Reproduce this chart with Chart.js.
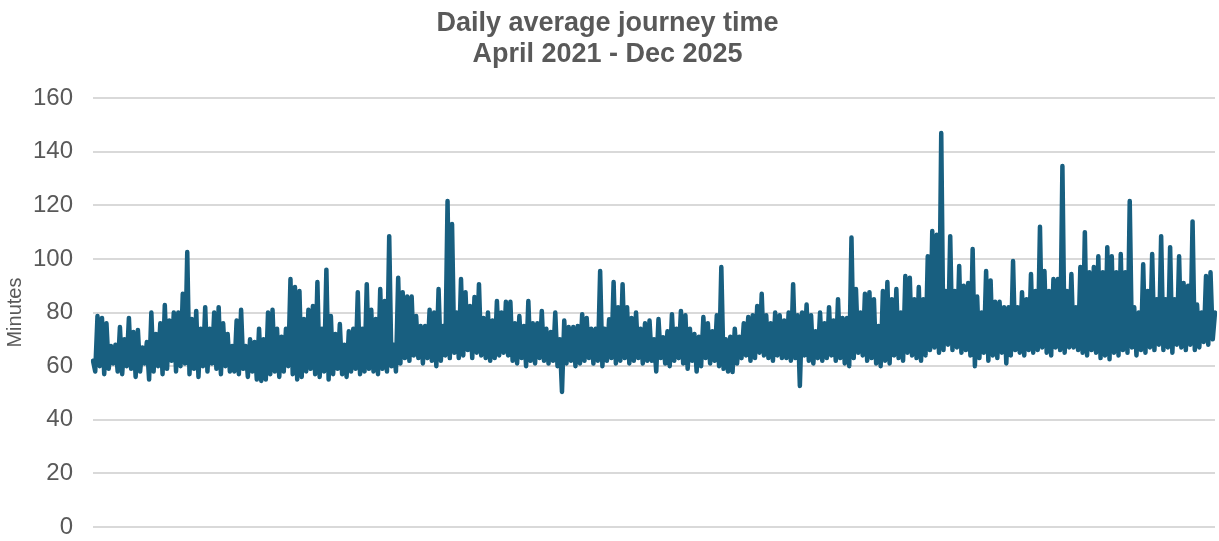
<!DOCTYPE html>
<html>
<head>
<meta charset="utf-8">
<script src="https://cdn.jsdelivr.net/npm/chart.js@4/dist/chart.umd.min.js"></script>
<style>
html,body{margin:0;padding:0;background:#fff;}
#wrap{width:1219px;height:541px;position:relative;}
</style>
</head>
<body>
<div id="wrap"><canvas id="c"></canvas></div>
<script>
// Daily average journey time (minutes), period by period
const apr2021toAug2021 = [62,58, 78.7,60, 78,57, 76,59, 67.5,61, 68,58, 74.6,57, 70,60, 78,59, 72.7,56, 73.5,58, 67,61, 69,55, 80,58, 72,60, 76,57, 82.8,59, 77,62, 80,58, 80,60, 87,61, 102.6,57, 77.6,59, 80.6,56, 74,60, 82,58, 74,61, 80,59, 82,57, 76,60, 72,58];
const sep2021toDec2021 = [67.5,58, 77,57, 81,59, 67.5,56, 70,58, 69,55, 74,54.5, 70,55, 80,57, 81,58, 74,56, 71,58, 74,60, 92.5,57, 89.5,55, 88,56, 77.6,58, 81,59, 82.4,57, 91.4,56, 74,58, 96,55, 78.7,57, 72,59, 75.7,57, 68,56, 73,58, 74,59, 87.6,57, 74,58, 90.6,59];
const jan2022toJul2022 = [81,58, 77.6,57, 88.8,59, 84.3,58, 108.5,60, 68,58, 93,61, 87.6,63, 86,62, 86,64, 78.7,63, 75,61, 75,63, 81,62, 80,60, 88.8,62, 75,64, 121.6,63, 113,65, 80,63, 92.5,64, 87.6,66, 82.4,63, 85.8,65, 90.6,64, 78,63, 80,62, 77,63, 84.3,64, 80,65, 84,64];
const aug2022toDec2022 = [84,62, 76,61, 78.7,63, 75,60, 84.3,62, 76,61, 76,63, 80.6,62, 74,61, 72.7,62, 80,60, 70,50.4, 77,61, 74.6,62, 74.6,60, 75,61, 79.4,62, 78,63, 74,61, 74,62, 95.5,60, 74,62, 77.5,63, 91.4,61, 82,62, 90.6,63, 82,61, 78,62, 80,63, 74,61, 76,62];
const jan2023toJul2023 = [77,62, 70,58, 77.6,63, 70.8,61, 73,60, 79.4,62, 74,63, 80.6,61, 79,59, 74,62, 72,58, 71,60, 78.3,63, 76,61, 73,62, 79,60, 97,59, 70,58, 71,57.8, 74,61, 71,63, 76,64, 78.3,62, 79,63, 82.4,65, 87,64, 79,63, 76,62, 80,64, 79,63, 77,63, 80,62];
const aug2023toDec2023 = [90.6,63, 79,52.6, 80,64, 83,62, 79,61, 73,63, 80,62, 76,63, 82,64, 77,62, 85,63, 78,61, 78,60, 108,63, 88.8,65, 80,64, 87,62, 87.6,63, 85,61, 75,60, 88,62, 91.4,61, 85,64, 88.8,63, 80,62, 93.6,65, 93,64, 85,63, 89.5,62, 85,64, 101,66, 110.4,67];
const jan2024toJul2024 = [109,65, 147,66, 88,68, 108.5,66, 88,67, 97.4,65, 90,66, 91,64, 103.7,60, 86,63, 80,65, 95.5,62, 92,64, 84,63, 84,65, 82,61, 82,64, 99.2,66, 82,65, 87.6,64, 85,66, 94.4,65, 88,66, 112,67, 95.5,65, 88,64, 92.5,67, 92.5,66, 134.7,65, 88,67];
const aug2024toDec2025 = [94.4,67, 82,66, 97,65, 110,64, 95,66, 97,65, 101,63, 95,64, 104.4,62.6, 101,65, 95,64, 101.8,66, 95,65, 121.6,67, 82,64, 80,66, 98,65, 88,67, 101.8,66, 85,68, 108.5,66, 85,67, 104.4,65, 85,68, 101,67, 91,66, 90,68, 114,66, 83,67, 80,69, 93.6,68, 95,70, 80];

const yTicks = [0, 20, 40, 60, 80, 100, 120, 140, 160];
const titleLines = ['Daily average journey time', 'April 2021 - Dec 2025'];
const yAxisTitle = 'Minutes';

const journeyMinutes = [].concat(apr2021toAug2021, sep2021toDec2021, jan2022toJul2022,
  aug2022toDec2022, jan2023toJul2023, aug2023toDec2023, jan2024toJul2024, aug2024toDec2025);
const dayLabels = journeyMinutes.map((v, i) => String(i + 1));

const FONT = '"Liberation Sans", Arial, sans-serif';
const GREY = '#595959';

new Chart(document.getElementById('c'), {
  type: 'line',
  data: {
    labels: dayLabels,
    datasets: [{
      data: journeyMinutes,
      borderColor: '#185f80',
      borderWidth: 4.5,
      pointRadius: 0,
      tension: 0,
      borderJoinStyle: 'round',
      borderCapStyle: 'round',
      fill: false
    }]
  },
  options: {
    responsive: true,
    maintainAspectRatio: false,
    animation: false,
    layout: { padding: { left: 0, right: 4, top: 0, bottom: 14 } },
    plugins: {
      legend: { display: false },
      tooltip: { enabled: false },
      title: {
        display: true,
        text: titleLines,
        color: GREY,
        font: { family: FONT, size: 27, weight: 'bold', lineHeight: 1.15 },
        padding: { top: 8, bottom: 28 }
      }
    },
    scales: {
      x: { display: false },
      y: {
        min: 0, max: 160,
        afterBuildTicks: (scale) => { scale.ticks = yTicks.map(v => ({ value: v })); },
        afterFit: (scale) => { scale.width = 93; scale.paddingTop = 0; scale.paddingBottom = 0; },
        border: { display: false },
        grid: { color: '#d9d9d9', lineWidth: 2, drawTicks: false },
        ticks: {
          color: GREY,
          font: { family: FONT, size: 24 },
          crossAlign: 'near',
          padding: 20
        },
        title: {
          display: true,
          text: yAxisTitle,
          color: GREY,
          font: { family: FONT, size: 20 },
          padding: { top: 3, bottom: 0 }
        }
      }
    }
  }
});
</script>
</body>
</html>
